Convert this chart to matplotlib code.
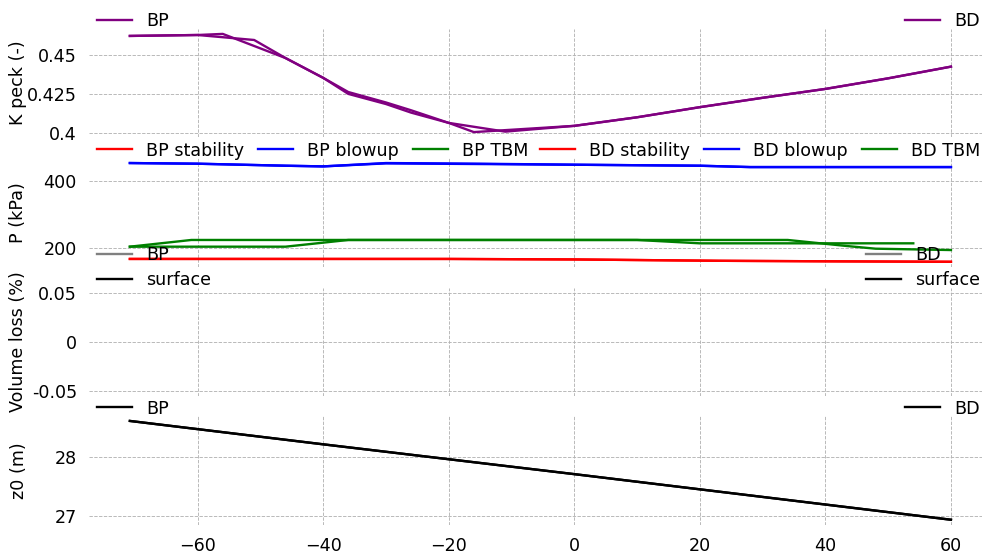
import matplotlib
matplotlib.use('Agg')
import matplotlib.pyplot as plt
from matplotlib.ticker import FuncFormatter

# K peck along the alignment
k_bp_x = [-70.8, -60, -56, -46, -40, -36, -30, -26, -20, -16, 0, 10, 20, 30, 40, 50, 60]
k_bp = [0.4622, 0.4628, 0.4635, 0.4480, 0.4353, 0.4262, 0.4195, 0.4145, 0.4064, 0.4005,
        0.4045, 0.4100, 0.4165, 0.4225, 0.4282, 0.4350, 0.4425]
k_bd_x = [-70.8, -60, -51, -46, -40, -36, -30, -26, -20, -11, 0, 10, 20, 30, 40, 50, 60]
k_bd = [0.4622, 0.4628, 0.4596, 0.4480, 0.4353, 0.4250, 0.4185, 0.4130, 0.4064, 0.4008,
        0.4045, 0.4100, 0.4165, 0.4225, 0.4282, 0.4350, 0.4425]

# pressures (kPa)
stab_x = [-70.8, -40, -20, 0, 23, 40, 60]
stab_bp = [167.5, 167.5, 167.5, 166, 162, 160.5, 159]
stab_bd = [167.5, 167.5, 167.5, 166, 162, 160.5, 159]
blow_x = [-70.8, -60, -46, -40, -30, -15, 0, 20, 28, 40, 60]
blow_bp = [453, 451, 445, 443, 453, 451, 448, 445, 441, 441, 441]
blow_bd = [453, 451, 445, 443, 452, 450, 448, 445, 441, 441, 441]
tbm_bp_x = [-70.8, -61, 10, 20, 54]
tbm_bp = [204, 224, 224, 214, 214]
tbm_bd_x = [-70.8, -46, -36, 34, 43.4, 48, 60]
tbm_bd = [204, 204, 224, 224, 206, 198, 194]

# volume loss: no values
vl_x = []
vl_bp = []
vl_bd = []

# tunnel axis depth z0 (m)
z_x = [-70.8, -40, 0, 20, 40, 60]
z_bp = [28.62, 28.22, 27.71, 27.45, 27.19, 26.93]
z_bd = [28.62, 28.22, 27.71, 27.45, 27.19, 26.93]

FS = 12.6
W, H = 982, 553
plt.rcParams['font.family'] = 'DejaVu Sans'
plt.rcParams['font.size'] = FS

fig = plt.figure(figsize=(W / 100, H / 100), dpi=100)

left_px, right_px = 88.8, 992.0
rows = [(29, 137), (158, 266.5), (288, 396), (416, 524.7)]
axes = []
for top, bot in rows:
    ax = fig.add_axes([left_px / W, 1 - bot / H, (right_px - left_px) / W, (bot - top) / H],
                      sharex=axes[0] if axes else None)
    axes.append(ax)
ax1, ax2, ax3, ax4 = axes

lw = 1.7
ax1.plot(k_bp_x, k_bp, color='purple', lw=lw, label='BP')
ax1.plot(k_bd_x, k_bd, color='purple', lw=lw, label='BD')

ax2.plot(stab_x, stab_bp, color='red', lw=lw, label='BP stability')
ax2.plot(blow_x, blow_bp, color='blue', lw=lw, label='BP blowup')
ax2.plot(tbm_bp_x, tbm_bp, color='green', lw=lw, label='BP TBM')
ax2.plot(stab_x, stab_bd, color='red', lw=lw, label='BD stability')
ax2.plot(blow_x, blow_bd, color='blue', lw=lw, label='BD blowup')
ax2.plot(tbm_bd_x, tbm_bd, color='green', lw=lw, label='BD TBM')

ax3.plot(vl_x, vl_bp, color='grey', lw=lw, label='BP')
ax3.plot([], [], color='black', lw=lw, label='surface')
ax3.plot(vl_x, vl_bd, color='grey', lw=lw, label='BD')
ax3.plot([], [], color='black', lw=lw, label='surface ')

ax4.plot(z_x, z_bp, color='black', lw=lw, label='BP')
ax4.plot(z_x, z_bd, color='black', lw=lw, label='BD')

ax1.set_ylim(0.39735, 0.46665)
ax1.set_yticks([0.4, 0.425, 0.45])
ax2.set_ylim(145, 468)
ax2.set_yticks([200, 400])
ax3.set_ylim(-0.055, 0.055)
ax3.set_yticks([-0.05, 0, 0.05])
ax4.set_ylim(26.845, 28.7045)
ax4.set_yticks([27, 28])
ax4.set_xlim(-77.34, 66.54)
ax4.set_xticks([-60, -40, -20, 0, 20, 40, 60])

labels = ['K peck (-)', 'P (kPa)', 'Volume loss (%)', 'z0 (m)']
fmt = FuncFormatter(lambda v, p: '%g' % v)
for ax, lab in zip(axes, labels):
    for s in ax.spines.values():
        s.set_visible(False)
    ax.grid(True, linestyle='--', color='#b4b4b4', linewidth=0.65)
    ax.set_axisbelow(True)
    ax.tick_params(length=0, pad=8.5, labelsize=FS)
    ax.yaxis.set_major_formatter(fmt)
    ax.set_ylabel(lab, fontsize=FS)
    ax.yaxis.set_label_coords((27.5 - left_px) / (right_px - left_px), 0.5)
    if ax is not ax4:
        ax.tick_params(labelbottom=False)

    h, l = ax.get_legend_handles_labels()
    n = len(h) // 2
    lx = (97 - left_px) / (right_px - left_px)
    rx = (980 - left_px) / (right_px - left_px)
    by = 1 - 1.5 / 108
    kw = dict(frameon=False, borderpad=0, borderaxespad=0, fontsize=FS,
              handlelength=2.0, handletextpad=0.8, columnspacing=0.8, labelspacing=0.42)
    ncol = 3 if ax is ax2 else 1
    leg1 = ax.legend(h[:n], l[:n], loc='lower left', bbox_to_anchor=(lx, by), ncol=ncol, **kw)
    ax.add_artist(leg1)
    labs = [t.strip() for t in l[n:]]
    ax.legend(h[n:], labs, loc='lower right', bbox_to_anchor=(rx, by), ncol=ncol, **kw)

fig.savefig('out.png', dpi=100)
